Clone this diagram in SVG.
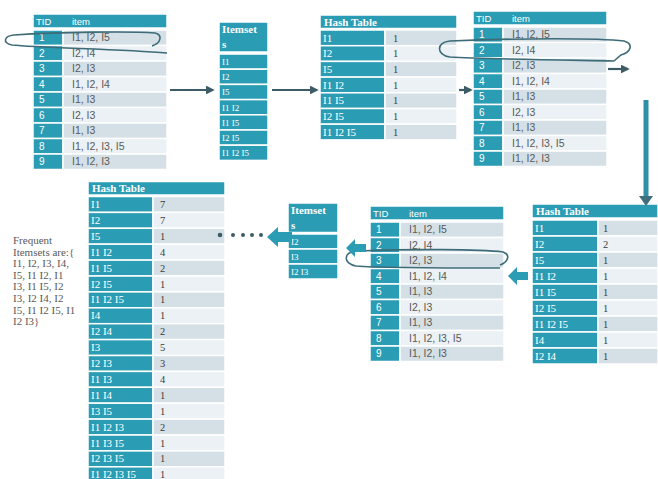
<svg xmlns="http://www.w3.org/2000/svg" xmlns:xlink="http://www.w3.org/1999/xlink" width="658" height="479" viewBox="0 0 658 479">
<style>
.t{fill:#2a9cb4;stroke:#fff;stroke-width:1.5}
.a{fill:#d4e0e6;stroke:#fff;stroke-width:1.5}
.b{fill:#ebf1f4;stroke:#fff;stroke-width:1.5}
.hs{font-family:"Liberation Sans",Arial,sans-serif;font-size:9.5px;fill:#fff}
.ns{font-family:"Liberation Sans",Arial,sans-serif;font-size:10px;fill:#fff}
.ds{font-family:"Liberation Sans",Arial,sans-serif;font-size:10.5px;fill:#5a5a5a}
.wf{font-family:"Liberation Serif","Times New Roman",serif;font-size:11px;fill:#fff}
.hf{font-family:"Liberation Serif","Times New Roman",serif;font-size:11px;font-weight:bold;fill:#fff}
.df{font-family:"Liberation Serif","Times New Roman",serif;font-size:10.5px;fill:#3c3c3c}
.is{font-family:"Liberation Serif","Times New Roman",serif;font-size:9px;fill:#fff}
.ih{font-family:"Liberation Serif","Times New Roman",serif;font-size:11px;font-weight:bold;fill:#fff}
.ft{font-family:"Liberation Serif","Times New Roman",serif;font-size:11px;fill:#5a5a5a}
.ov{fill:none;stroke:#3d6b78;stroke-width:1.6}
.ln{stroke:#3d5c66;stroke-width:2.2;fill:none}
.ba{fill:#2a9cb4}
.dot{fill:#3d5c66}
</style>
<defs>
<marker id="ah" viewBox="0 0 10 10" refX="8" refY="5" markerWidth="4" markerHeight="4" orient="auto"><path d="M0,0 L10,5 L0,10 z" fill="#3d5c66"/></marker>
<g id="tidTbl">
<rect class="t" x="0" y="0" width="134" height="14"/>
<text class="hs" x="3" y="10.5">TID</text><text class="hs" x="39" y="10.5">item</text>
<rect class="t" x="0" y="16" width="30" height="15.5"/><rect class="a" x="30" y="16" width="104" height="15.5"/>
<text class="ns" x="6" y="27.3">1</text><text class="ds" x="39" y="27.3">I1, I2, I5</text>
<rect class="t" x="0" y="31.5" width="30" height="15.5"/><rect class="b" x="30" y="31.5" width="104" height="15.5"/>
<text class="ns" x="6" y="42.8">2</text><text class="ds" x="39" y="42.8">I2, I4</text>
<rect class="t" x="0" y="47" width="30" height="15.5"/><rect class="a" x="30" y="47" width="104" height="15.5"/>
<text class="ns" x="6" y="58.3">3</text><text class="ds" x="39" y="58.3">I2, I3</text>
<rect class="t" x="0" y="62.5" width="30" height="15.5"/><rect class="b" x="30" y="62.5" width="104" height="15.5"/>
<text class="ns" x="6" y="73.8">4</text><text class="ds" x="39" y="73.8">I1, I2, I4</text>
<rect class="t" x="0" y="78" width="30" height="15.5"/><rect class="a" x="30" y="78" width="104" height="15.5"/>
<text class="ns" x="6" y="89.3">5</text><text class="ds" x="39" y="89.3">I1, I3</text>
<rect class="t" x="0" y="93.5" width="30" height="15.5"/><rect class="b" x="30" y="93.5" width="104" height="15.5"/>
<text class="ns" x="6" y="104.8">6</text><text class="ds" x="39" y="104.8">I2, I3</text>
<rect class="t" x="0" y="109" width="30" height="15.5"/><rect class="a" x="30" y="109" width="104" height="15.5"/>
<text class="ns" x="6" y="120.3">7</text><text class="ds" x="39" y="120.3">I1, I3</text>
<rect class="t" x="0" y="124.5" width="30" height="15.5"/><rect class="b" x="30" y="124.5" width="104" height="15.5"/>
<text class="ns" x="6" y="135.8">8</text><text class="ds" x="39" y="135.8">I1, I2, I3, I5</text>
<rect class="t" x="0" y="140" width="30" height="15.5"/><rect class="a" x="30" y="140" width="104" height="15.5"/>
<text class="ns" x="6" y="151.3">9</text><text class="ds" x="39" y="151.3">I1, I2, I3</text>
</g>
</defs>
<rect width="658" height="479" fill="#fff"/>

<g id="tid-table-1"><use xlink:href="#tidTbl" transform="translate(33,14)"/></g>

<g id="itemset-1">
<rect class="t" x="219" y="22" width="49" height="30"/>
<text class="ih" x="222" y="33">Itemset</text><text class="ih" x="222" y="48">s</text>
<rect class="t" x="219" y="54" width="49" height="15.2"/><text class="is" x="222" y="65">I1</text>
<rect class="t" x="219" y="69.2" width="49" height="15.2"/><text class="is" x="222" y="80.2">I2</text>
<rect class="t" x="219" y="84.4" width="49" height="15.2"/><text class="is" x="222" y="95.4">I5</text>
<rect class="t" x="219" y="99.6" width="49" height="15.2"/><text class="is" x="222" y="110.6">I1 I2</text>
<rect class="t" x="219" y="114.8" width="49" height="15.2"/><text class="is" x="222" y="125.8">I1 I5</text>
<rect class="t" x="219" y="130" width="49" height="15.2"/><text class="is" x="222" y="141">I2 I5</text>
<rect class="t" x="219" y="145.2" width="49" height="15.2"/><text class="is" x="222" y="156.2">I1 I2 I5</text>
</g>

<g id="hash-table-1">
<rect class="t" x="320" y="15" width="137" height="13.5"/><text class="hf" x="324" y="25.5">Hash Table</text>
<rect class="t" x="320" y="30" width="65" height="15.7"/><rect class="a" x="385" y="30" width="72" height="15.7"/><text class="wf" x="323" y="41.5">I1</text><text class="df" x="393" y="41.5">1</text>
<rect class="t" x="320" y="45.7" width="65" height="15.7"/><rect class="b" x="385" y="45.7" width="72" height="15.7"/><text class="wf" x="323" y="57.2">I2</text><text class="df" x="393" y="57.2">1</text>
<rect class="t" x="320" y="61.4" width="65" height="15.7"/><rect class="a" x="385" y="61.4" width="72" height="15.7"/><text class="wf" x="323" y="72.9">I5</text><text class="df" x="393" y="72.9">1</text>
<rect class="t" x="320" y="77.1" width="65" height="15.7"/><rect class="b" x="385" y="77.1" width="72" height="15.7"/><text class="wf" x="323" y="88.6">I1 I2</text><text class="df" x="393" y="88.6">1</text>
<rect class="t" x="320" y="92.8" width="65" height="15.7"/><rect class="a" x="385" y="92.8" width="72" height="15.7"/><text class="wf" x="323" y="104.3">I1 I5</text><text class="df" x="393" y="104.3">1</text>
<rect class="t" x="320" y="108.5" width="65" height="15.7"/><rect class="b" x="385" y="108.5" width="72" height="15.7"/><text class="wf" x="323" y="120">I2 I5</text><text class="df" x="393" y="120">1</text>
<rect class="t" x="320" y="124.2" width="65" height="15.7"/><rect class="a" x="385" y="124.2" width="72" height="15.7"/><text class="wf" x="323" y="135.7">I1 I2 I5</text><text class="df" x="393" y="135.7">1</text>
</g>

<g id="tid-table-2"><use xlink:href="#tidTbl" transform="translate(473,11)"/></g>

<g id="hash-table-2">
<rect class="t" x="532" y="204" width="126" height="14"/><text class="hf" x="536" y="214.5">Hash Table</text>
<rect class="t" x="532" y="220" width="66" height="16"/><rect class="a" x="598" y="220" width="60" height="16"/><text class="wf" x="535" y="231.5">I1</text><text class="df" x="603" y="231.5">1</text>
<rect class="t" x="532" y="236" width="66" height="16"/><rect class="b" x="598" y="236" width="60" height="16"/><text class="wf" x="535" y="247.5">I2</text><text class="df" x="603" y="247.5">2</text>
<rect class="t" x="532" y="252" width="66" height="16"/><rect class="a" x="598" y="252" width="60" height="16"/><text class="wf" x="535" y="263.5">I5</text><text class="df" x="603" y="263.5">1</text>
<rect class="t" x="532" y="268" width="66" height="16"/><rect class="b" x="598" y="268" width="60" height="16"/><text class="wf" x="535" y="279.5">I1 I2</text><text class="df" x="603" y="279.5">1</text>
<rect class="t" x="532" y="284" width="66" height="16"/><rect class="a" x="598" y="284" width="60" height="16"/><text class="wf" x="535" y="295.5">I1 I5</text><text class="df" x="603" y="295.5">1</text>
<rect class="t" x="532" y="300" width="66" height="16"/><rect class="b" x="598" y="300" width="60" height="16"/><text class="wf" x="535" y="311.5">I2 I5</text><text class="df" x="603" y="311.5">1</text>
<rect class="t" x="532" y="316" width="66" height="16"/><rect class="a" x="598" y="316" width="60" height="16"/><text class="wf" x="535" y="327.5">I1 I2 I5</text><text class="df" x="603" y="327.5">1</text>
<rect class="t" x="532" y="332" width="66" height="16"/><rect class="b" x="598" y="332" width="60" height="16"/><text class="wf" x="535" y="343.5">I4</text><text class="df" x="603" y="343.5">1</text>
<rect class="t" x="532" y="348" width="66" height="16"/><rect class="a" x="598" y="348" width="60" height="16"/><text class="wf" x="535" y="359.5">I2 I4</text><text class="df" x="603" y="359.5">1</text>
</g>

<g id="tid-table-3"><use xlink:href="#tidTbl" transform="translate(370,206)"/></g>

<g id="itemset-2">
<rect class="t" x="288" y="203" width="50" height="29.5"/>
<text class="ih" x="291" y="214">Itemset</text><text class="ih" x="291" y="229">s</text>
<rect class="t" x="288" y="234" width="50" height="15"/><text class="is" x="291" y="245">I2</text>
<rect class="t" x="288" y="249" width="50" height="15"/><text class="is" x="291" y="260">I3</text>
<rect class="t" x="288" y="264" width="50" height="15"/><text class="is" x="291" y="275">I2 I3</text>
</g>

<g id="hash-table-3">
<rect class="t" x="88" y="181.5" width="137" height="13.5"/><text class="hf" x="92" y="192">Hash Table</text>
<rect class="t" x="88" y="196.5" width="65" height="15.9"/><rect class="a" x="153" y="196.5" width="72" height="15.9"/><text class="wf" x="91" y="208">I1</text><text class="df" x="160" y="208">7</text>
<rect class="t" x="88" y="212.4" width="65" height="15.9"/><rect class="b" x="153" y="212.4" width="72" height="15.9"/><text class="wf" x="91" y="223.9">I2</text><text class="df" x="160" y="223.9">7</text>
<rect class="t" x="88" y="228.3" width="65" height="15.9"/><rect class="a" x="153" y="228.3" width="72" height="15.9"/><text class="wf" x="91" y="239.8">I5</text><text class="df" x="160" y="239.8">1</text>
<rect class="t" x="88" y="244.2" width="65" height="15.9"/><rect class="b" x="153" y="244.2" width="72" height="15.9"/><text class="wf" x="91" y="255.7">I1 I2</text><text class="df" x="160" y="255.7">4</text>
<rect class="t" x="88" y="260.1" width="65" height="15.9"/><rect class="a" x="153" y="260.1" width="72" height="15.9"/><text class="wf" x="91" y="271.6">I1 I5</text><text class="df" x="160" y="271.6">2</text>
<rect class="t" x="88" y="276" width="65" height="15.9"/><rect class="b" x="153" y="276" width="72" height="15.9"/><text class="wf" x="91" y="287.5">I2 I5</text><text class="df" x="160" y="287.5">1</text>
<rect class="t" x="88" y="291.9" width="65" height="15.9"/><rect class="a" x="153" y="291.9" width="72" height="15.9"/><text class="wf" x="91" y="303.4">I1 I2 I5</text><text class="df" x="160" y="303.4">1</text>
<rect class="t" x="88" y="307.8" width="65" height="15.9"/><rect class="b" x="153" y="307.8" width="72" height="15.9"/><text class="wf" x="91" y="319.3">I4</text><text class="df" x="160" y="319.3">1</text>
<rect class="t" x="88" y="323.7" width="65" height="15.9"/><rect class="a" x="153" y="323.7" width="72" height="15.9"/><text class="wf" x="91" y="335.2">I2 I4</text><text class="df" x="160" y="335.2">2</text>
<rect class="t" x="88" y="339.6" width="65" height="15.9"/><rect class="b" x="153" y="339.6" width="72" height="15.9"/><text class="wf" x="91" y="351.1">I3</text><text class="df" x="160" y="351.1">5</text>
<rect class="t" x="88" y="355.5" width="65" height="15.9"/><rect class="a" x="153" y="355.5" width="72" height="15.9"/><text class="wf" x="91" y="367">I2 I3</text><text class="df" x="160" y="367">3</text>
<rect class="t" x="88" y="371.4" width="65" height="15.9"/><rect class="b" x="153" y="371.4" width="72" height="15.9"/><text class="wf" x="91" y="382.9">I1 I3</text><text class="df" x="160" y="382.9">4</text>
<rect class="t" x="88" y="387.3" width="65" height="15.9"/><rect class="a" x="153" y="387.3" width="72" height="15.9"/><text class="wf" x="91" y="398.8">I1 I4</text><text class="df" x="160" y="398.8">1</text>
<rect class="t" x="88" y="403.2" width="65" height="15.9"/><rect class="b" x="153" y="403.2" width="72" height="15.9"/><text class="wf" x="91" y="414.7">I3 I5</text><text class="df" x="160" y="414.7">1</text>
<rect class="t" x="88" y="419.1" width="65" height="15.9"/><rect class="a" x="153" y="419.1" width="72" height="15.9"/><text class="wf" x="91" y="430.6">I1 I2 I3</text><text class="df" x="160" y="430.6">2</text>
<rect class="t" x="88" y="435" width="65" height="15.9"/><rect class="b" x="153" y="435" width="72" height="15.9"/><text class="wf" x="91" y="446.5">I1 I3 I5</text><text class="df" x="160" y="446.5">1</text>
<rect class="t" x="88" y="450.9" width="65" height="15.9"/><rect class="a" x="153" y="450.9" width="72" height="15.9"/><text class="wf" x="91" y="462.4">I2 I3 I5</text><text class="df" x="160" y="462.4">1</text>
<rect class="t" x="88" y="466.8" width="65" height="15.9"/><rect class="b" x="153" y="466.8" width="72" height="15.9"/><text class="wf" x="91" y="478.3">I1 I2 I3 I5</text><text class="df" x="160" y="478.3">1</text>
</g>

<g id="frequent-text">
<text class="ft" x="13" y="244">Frequent</text>
<text class="ft" x="13" y="255.6">Itemsets are:{</text>
<text class="ft" x="13" y="267.2">I1, I2, I3, I4,</text>
<text class="ft" x="13" y="278.8">I5, I1 I2, I1</text>
<text class="ft" x="13" y="290.4">I3, I1 I5, I2</text>
<text class="ft" x="13" y="302">I3, I2 I4, I2</text>
<text class="ft" x="13" y="313.6">I5, I1 I2 I5, I1</text>
<text class="ft" x="13" y="325.2">I2 I3}</text>
</g>

<g id="connectors">
<path class="ov" d="M167,53 C120,49 40,48 12,45 C2,43 4,36 14,35 C60,32 130,31 155,33 C163,35 161,43 152,46"/>
<path class="ov" d="M614,61 C560,60 480,59 450,57 C436,55 436,42 450,41 C520,38 600,38 624,41 C634,44 631,52 621,55 L614,61"/>
<path class="ov" d="M500,268 C450,268 380,268 356,266 C343,264 343,252 356,251 C410,249 480,249 503,252 C511,255 508,262 500,265"/>
<line class="ln" x1="170" y1="90" x2="213" y2="90" marker-end="url(#ah)"/>
<line class="ln" x1="272" y1="90" x2="317" y2="90" marker-end="url(#ah)"/>
<line class="ln" x1="459" y1="90" x2="471" y2="90" marker-end="url(#ah)"/>
<line class="ln" x1="608" y1="69" x2="628" y2="69" marker-end="url(#ah)"/>
<line x1="646" y1="100" x2="646" y2="197" stroke="#2e8fa6" stroke-width="5"/>
<polygon points="639,196 653,196 646,206" fill="#3f6f7d"/>
<polygon class="ba" points="508,276 517,267 517,272 528,272 528,280 517,280 517,285"/>
<polygon class="ba" points="346,248 355,239 355,244 366,244 366,252 355,252 355,257"/>
<polygon class="ba" points="267,237 278,227 278,232 292,232 292,242 278,242 278,247"/>
<circle class="dot" cx="220" cy="235" r="2.3"/>
<circle class="dot" cx="233" cy="235" r="2"/>
<circle class="dot" cx="243" cy="235" r="2"/>
<circle class="dot" cx="252" cy="235" r="2"/>
<circle class="dot" cx="261" cy="235" r="2"/>
</g>
</svg>
